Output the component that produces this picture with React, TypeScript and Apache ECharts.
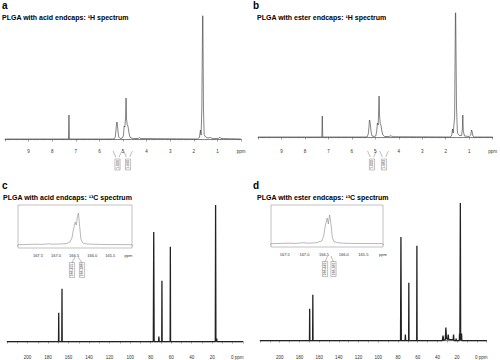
import { useEffect, useRef } from 'react';
import * as echarts from 'echarts';

// ---- data: [ppm, intensity] pairs ----
const H_ACID: [number, number][] = [
  [10, 0], [7.31, 0], [7.29, 24], [7.27, 0],
  [5.38, 0], [5.33, 2], [5.3, 8], [5.28, 14], [5.26, 17], [5.24, 15], [5.21, 7], [5.18, 2], [5.12, 0.5],
  [5.02, 1], [4.98, 4], [4.95, 13], [4.92, 12], [4.89, 22], [4.87, 41], [4.85, 20], [4.82, 14], [4.79, 13], [4.76, 8], [4.72, 3], [4.67, 1], [4.55, 0.5],
  [4.35, 0.5], [4.3, 1.5], [4.27, 0.5],
  [1.85, 0], [1.76, 1.5], [1.72, 9], [1.69, 4], [1.66, 30], [1.62, 140], [1.59, 30], [1.56, 4], [1.5, 2], [1.4, 1], [1.3, 1.5], [1.2, 0.5],
  [0.95, 0.5], [0.9, 2], [0.85, 0.5], [0, 0],
];
const H_ESTER: [number, number][] = [
  [10, 0], [7.28, 0], [7.26, 21], [7.24, 0],
  [5.35, 0], [5.3, 3], [5.27, 10], [5.25, 17], [5.23, 16], [5.21, 12], [5.18, 5], [5.14, 1], [5.05, 0.5],
  [4.98, 1], [4.94, 6], [4.91, 14], [4.88, 12], [4.86, 24], [4.84, 41], [4.82, 22], [4.79, 13], [4.76, 12], [4.72, 6], [4.68, 2], [4.6, 0.5],
  [4.4, 0.5], [4.36, 1.5], [4.33, 0.5], [4.3, 1.2], [4.27, 0.3],
  [1.8, 0], [1.74, 2], [1.71, 8], [1.68, 4], [1.62, 20], [1.58, 140], [1.54, 30], [1.5, 4], [1.42, 1.5], [1.32, 1.5],
  [1.29, 8], [1.27, 22], [1.25, 6], [1.2, 1], [1.0, 0.5], [0.93, 2], [0.9, 7], [0.87, 5], [0.84, 1], [0.78, 0], [0, 0],
];
const C_ACID: [number, number][] = [
  [220, 0], [169.8, 0], [169.6, 29], [169.4, 0], [166.6, 0], [166.4, 53], [166.2, 0],
  [77.4, 0], [77.0, 110], [76.6, 0], [72.3, 0], [72.0, 5], [71.7, 0],
  [69.2, 0], [69.0, 61], [68.8, 0], [61.0, 0], [60.8, 95], [60.6, 0],
  [17.0, 0], [16.7, 137], [16.4, 0], [15.8, 0], [15.6, 3], [15.4, 0], [-10, 0],
];
const C_ESTER: [number, number][] = [
  [220, 0], [169.8, 0], [169.6, 32], [169.4, 0], [166.6, 0], [166.4, 46], [166.2, 0],
  [77.4, 0], [77.0, 104], [76.6, 0], [72.8, 0], [72.5, 6], [72.2, 0],
  [69.2, 0], [69.0, 58], [68.8, 0], [61.0, 0], [60.8, 95], [60.6, 0],
  [35, 0], [34.3, 5], [33.6, 0], [32.0, 1], [31.4, 13], [30.8, 2], [29.5, 1], [29, 6], [28.5, 1],
  [24.0, 1], [23.6, 6], [23.2, 0], [21.3, 0], [21, 2], [20.7, 0],
  [17.8, 0], [17.5, 7], [17.2, 0], [17.0, 0], [16.7, 138], [16.4, 0], [15.8, 0], [15.5, 7], [15.2, 0], [-10, 0],
];
const INSET_ACID: [number, number][] = [
  [168.05, 0.3], [167.8, 0.5], [167.6, 0.8], [167.4, 0.6], [167.2, 1.2], [167.1, 0.8], [166.9, 1], [166.7, 1.5],
  [166.62, 3], [166.56, 7], [166.52, 15], [166.47, 23], [166.44, 20], [166.41, 28], [166.38, 32], [166.35, 20],
  [166.31, 6], [166.27, 2.5], [166.2, 1.2], [166.0, 0.8], [165.8, 0.6], [165.5, 0.4], [165.2, 0.4], [164.9, 0.3],
];
const INSET_ESTER: [number, number][] = [
  [167.85, 0.3], [167.6, 0.6], [167.4, 0.8], [167.2, 0.6], [167.05, 1.3], [166.9, 0.8], [166.7, 1.2],
  [166.56, 3], [166.51, 8], [166.47, 18], [166.42, 26], [166.39, 20], [166.36, 29], [166.33, 22],
  [166.29, 7], [166.25, 2.5], [166.15, 1.2], [166.0, 0.8], [165.8, 0.6], [165.5, 0.5], [165.2, 0.4], [165.0, 0.3],
];

const TITLES = [
  'PLGA with acid endcaps: \u00b9H spectrum',
  'PLGA with ester endcaps: \u00b9H spectrum',
  'PLGA with acid endcaps: \u00b9\u00b3C spectrum',
  'PLGA with ester endcaps: \u00b9\u00b3C spectrum',
];
const PANEL_LETTERS = ['a', 'b', 'c', 'd'];
const INTEGRALS_A = ['1.000', '1.990'];
const INTEGRALS_B = ['1.000', '1.983'];
const PEAKS_C = ['166.455', '166.388'];
const PEAKS_D = ['166.449', '166.381'];

const FONT = 'Liberation Sans, Arial, sans-serif';
const AX = '#444';

function hAxis(gridIndex: number) {
  return {
    gridIndex, type: 'value', inverse: true, min: 0, max: 10, interval: 1,
    axisLine: { show: true, lineStyle: { color: AX, width: 0.6 } },
    axisTick: { show: true, length: 2.5, lineStyle: { color: AX, width: 0.5 } },
    minorTick: { show: true, splitNumber: 10, length: 1.2, lineStyle: { color: AX, width: 0.4 } },
    splitLine: { show: false }, minorSplitLine: { show: false },
    axisLabel: {
      fontSize: 4.5, color: '#333', margin: 3, fontFamily: FONT, showMinLabel: true, showMaxLabel: true,
      formatter: (v: number) => (v === 0 ? 'ppm' : v === 10 ? '' : String(v)),
    },
  };
}
function cAxis(gridIndex: number) {
  return {
    gridIndex, type: 'value', inverse: true, min: -10, max: 220, interval: 10,
    axisLine: { show: true, lineStyle: { color: AX, width: 0.6 } },
    axisTick: { show: true, length: 2, lineStyle: { color: AX, width: 0.5 } },
    minorTick: { show: true, splitNumber: 5, length: 1, lineStyle: { color: AX, width: 0.4 } },
    splitLine: { show: false }, minorSplitLine: { show: false },
    axisLabel: {
      fontSize: 4.5, color: '#333', margin: 2.5, fontFamily: FONT, showMinLabel: true, showMaxLabel: true,
      formatter: (v: number) => {
        const r = Math.round(v);
        if (r % 20 !== 0 || r < 0 || r > 200) return '';
        return r === 0 ? '{s|}0 ppm' : String(r);
      },
      rich: { s: { width: 9 } },
    },
  };
}
function insetAxis(gridIndex: number, min: number, max: number) {
  return {
    gridIndex, type: 'value', inverse: true, min, max, interval: 0.1, offset: 3,
    axisLine: { show: true, lineStyle: { color: AX, width: 0.5 } },
    axisTick: { show: true, length: 1.5, lineStyle: { color: AX, width: 0.4 } },
    splitLine: { show: false },
    axisLabel: {
      fontSize: 4, color: '#333', margin: 2, fontFamily: FONT, showMinLabel: true, showMaxLabel: true,
      formatter: (v: number) => {
        const d = v * 2;
        if (Math.abs(d - Math.round(d)) > 1e-6 || v > 167.9) return '';
        if (Math.abs(v - 165) < 1e-6) return 'ppm';
        return v.toFixed(1);
      },
    },
  };
}
function yAx(gridIndex: number, min: number, max: number) {
  return { gridIndex, type: 'value', min, max, show: false };
}
function line(i: number, data: [number, number][], color: string, width: number) {
  return {
    type: 'line', xAxisIndex: i, yAxisIndex: i, data, showSymbol: false, symbol: 'none',
    lineStyle: { color, width }, clip: true, z: 3,
  };
}
function txt(x: number, y: number, text: string, size: number, weight = 'bold') {
  return {
    type: 'text', x, y, z: 10,
    style: { text, fontSize: size, fontWeight: weight, fontFamily: FONT, fill: '#000', verticalAlign: 'middle', align: 'left' },
  };
}
function vLabel(cx: number, cy: number, text: string) {
  return {
    type: 'text', x: cx, y: cy, rotation: Math.PI / 2, z: 10,
    style: {
      text, fontSize: 3.6, fontFamily: FONT, fill: '#333', align: 'center', verticalAlign: 'middle',
      borderColor: '#666', borderWidth: 0.4, padding: [0.6, 1],
    },
  };
}
function seg(points: number[][]) {
  return { type: 'polyline', z: 10, shape: { points }, style: { stroke: '#555', lineWidth: 0.4, fill: null } };
}
function integral(cx: number, top: number, text: string) {
  return [
    seg([[cx - 4.5, top], [cx - 2, top + 5], [cx - 2, top + 6]]),
    seg([[cx + 4.5, top], [cx + 2, top + 5], [cx + 2, top + 6]]),
    vLabel(cx, top + 13.5, text),
  ];
}
function peakLabels(x1: number, x2: number, from1: number, from2: number, top: number, texts: string[]) {
  return [
    seg([[from1, top], [x1, top + 6]]),
    seg([[from2, top], [x2, top + 6]]),
    vLabel(x1, top + 13, texts[0]),
    vLabel(x2, top + 13, texts[1]),
  ];
}

const option = {
  animation: false,
  backgroundColor: '#fff',
  grid: [
    { left: 5, top: 16, width: 236, height: 130 },
    { left: 258, top: 13, width: 239, height: 133 },
    { left: 7, top: 200, width: 236, height: 153 },
    { left: 260, top: 200, width: 237, height: 153 },
    { left: 18, top: 205, width: 114, height: 43, show: true, borderColor: '#999', borderWidth: 0.6, backgroundColor: '#fff', z: 4 },
    { left: 271, top: 205, width: 112, height: 42, show: true, borderColor: '#999', borderWidth: 0.6, backgroundColor: '#fff', z: 4 },
  ],
  xAxis: [hAxis(0), hAxis(1), cAxis(2), cAxis(3), insetAxis(4, 164.9, 168.05), insetAxis(5, 165.0, 167.85)],
  yAxis: [yAx(0, -7, 123), yAx(1, -9, 124), yAx(2, -11, 142), yAx(3, -12, 141), yAx(4, -3, 40), yAx(5, -3, 39)],
  series: [
    line(0, H_ACID, '#333', 0.6),
    line(1, H_ESTER, '#333', 0.6),
    line(2, C_ACID, '#222', 1.3),
    line(3, C_ESTER, '#222', 1.3),
    { ...line(4, INSET_ACID, '#888', 0.6), z: 6 },
    { ...line(5, INSET_ESTER, '#888', 0.6), z: 6 },
  ],
  graphic: [
    txt(2, 5, PANEL_LETTERS[0], 10),
    txt(2, 17.5, TITLES[0], 7),
    txt(253, 5, PANEL_LETTERS[1], 10),
    txt(257, 17.5, TITLES[1], 7),
    txt(2, 185, PANEL_LETTERS[2], 10),
    txt(3, 197.5, TITLES[2], 7),
    txt(253, 185, PANEL_LETTERS[3], 10),
    txt(257, 197.5, TITLES[3], 7),
    ...integral(117.5, 151, INTEGRALS_A[0]),
    ...integral(128, 151, INTEGRALS_A[1]),
    ...integral(372, 151, INTEGRALS_B[0]),
    ...integral(384, 151, INTEGRALS_B[1]),
    ...peakLabels(72, 82, 75, 78, 257, PEAKS_C),
    ...peakLabels(325, 333.5, 327.5, 331, 256, PEAKS_D),
  ],
};

export default function App() {
  const ref = useRef<HTMLDivElement>(null);
  useEffect(() => {
    const chart = echarts.init(ref.current!, null, { renderer: 'svg' });
    chart.setOption(option as any);
    return () => chart.dispose();
  }, []);
  return <div ref={ref} style={{ position: 'absolute', left: 0, top: 0, width: 500, height: 360 }} />;
}
